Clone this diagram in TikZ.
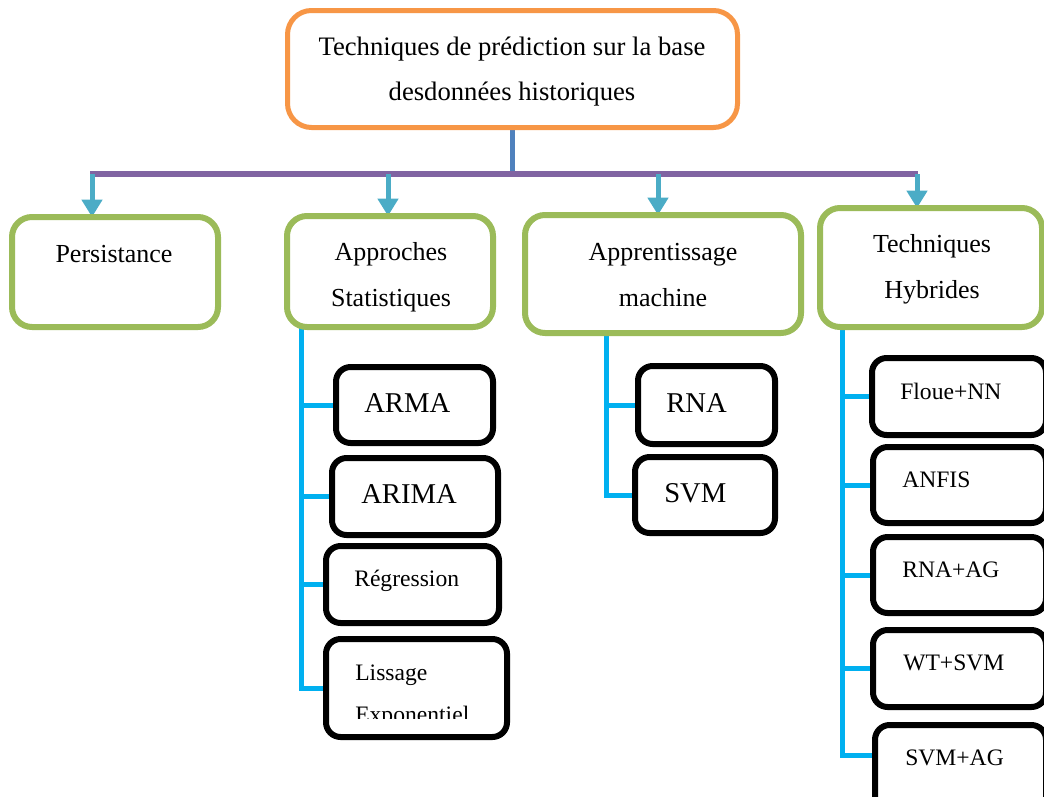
\documentclass[tikz,border=0pt]{standalone}
\usepackage{fontspec}
\setmainfont{Liberation Serif}
\usetikzlibrary{arrows.meta,fit}
\definecolor{orangeb}{HTML}{F79646}
\definecolor{greenb}{HTML}{9BBB59}
\definecolor{purpleb}{HTML}{8064A2}
\definecolor{stemb}{HTML}{4F81BD}
\definecolor{dropb}{HTML}{4BACC6}
\definecolor{cyanb}{HTML}{00B0F0}
\begin{document}
\begin{tikzpicture}[x=0.75pt,y=-0.75pt,
  topbox/.style={draw=orangeb,fill=white,line width=3.75pt,rounded corners=18pt,inner sep=0pt},
  greenbox/.style={draw=greenb,fill=white,line width=4.5pt,rounded corners=15pt,inner sep=0pt},
  blackbox/.style={draw=black,fill=white,line width=4.5pt,rounded corners=11pt,inner sep=0pt},
  bus/.style={draw=purpleb,line width=4.5pt},
  stem/.style={draw=stemb,line width=4pt},
  drop/.style={draw=dropb,line width=3.75pt,-{Triangle[width=15pt,length=13pt]}},
  branch/.style={draw=cyanb,line width=3.75pt},
  ctxt/.style={anchor=base,inner sep=0pt,align=center},
  ltxt/.style={anchor=base west,inner sep=0pt,align=left},
  bigf/.style={font=\fontsize{19.5}{34.5}\selectfont},
  midf/.style={font=\fontsize{21.5}{26}\selectfont},
  smallf/.style={font=\fontsize{17.7}{31.5}\selectfont}]
\useasboundingbox (0,0) rectangle (1044,796);
\clip (0,0) rectangle (1044,796);

% bus and branch anchor points
\coordinate (busL) at (90,174);
\coordinate (busR) at (918,174);
\coordinate (d1) at (92,174);
\coordinate (d2) at (388,174);
\coordinate (d3) at (658,174);
\coordinate (d4) at (917,174);
\coordinate (va) at (301,0);
\coordinate (vm) at (606,0);
\coordinate (vh) at (842,0);

% boxes
\node[topbox,fit={(290,13) (735,125)}] (top) {};
\node[greenbox,fit={(15,220) (215,324)}] (pers) {};
\node[greenbox,fit={(290,219) (490,324)}] (apst) {};
\node[greenbox,fit={(528,218) (798,330)}] (app) {};
\node[greenbox,fit={(823,211) (1039,324)}] (hyb) {};

\node[blackbox,fit={(339,370) (490,440)}] (arma) {};
\node[blackbox,fit={(335,461) (495,532)}] (arima) {};
\node[blackbox,fit={(329,549) (496,620)}] (regr) {};
\node[blackbox,fit={(329,642) (504,734)}] (liss) {};

\node[blackbox,fit={(641,369) (772,441)}] (rna) {};
\node[blackbox,fit={(638,460) (772,530)}] (svm) {};

\node[blackbox,fit={(875,361) (1043,432)}] (fnn) {};
\node[blackbox,fit={(876,450) (1043,520)}] (anfis) {};
\node[blackbox,fit={(876,540) (1043,610)}] (rnaag) {};
\node[blackbox,fit={(876,633) (1043,704)}] (wtsvm) {};
\node[blackbox,fit={(878,728) (1043,820)}] (svmag) {};

% connectors
\draw[stem] (top.south) -- (top.south |- busL);
\draw[bus] (busL) -- (busR);
\draw[drop] (d1) -- (d1 |- pers.north);
\draw[drop] (d2) -- (d2 |- apst.north);
\draw[drop] (d3) -- (d3 |- app.north);
\draw[drop] (d4) -- (d4 |- hyb.north);

\draw[branch] (apst.south -| va) |- (liss.west);
\draw[branch] (arma.west -| va) -- (arma.west);
\draw[branch] (arima.west -| va) -- (arima.west);
\draw[branch] (regr.west -| va) -- (regr.west);

\draw[branch] (app.south -| vm) |- (svm.west);
\draw[branch] (rna.west -| vm) -- (rna.west);

\draw[branch] (hyb.south -| vh) |- ([yshift=-22.5pt]svmag.north west);
\draw[branch] (fnn.west -| vh) -- (fnn.west);
\draw[branch] (anfis.west -| vh) -- (anfis.west);
\draw[branch] (rnaag.west -| vh) -- (rnaag.west);
\draw[branch] (wtsvm.west -| vh) -- (wtsvm.west);

% redraw box outlines over the connector ends
\foreach \n/\s in {pers/greenbox,apst/greenbox,app/greenbox,hyb/greenbox,
  arma/blackbox,arima/blackbox,regr/blackbox,liss/blackbox,rna/blackbox,svm/blackbox,
  fnn/blackbox,anfis/blackbox,rnaag/blackbox,wtsvm/blackbox,svmag/blackbox,top/topbox}
  \draw[\s] (\n.north west) rectangle (\n.south east);

% labels (multi-line labels are placed by the baseline of their last line)
\node[ctxt,font=\fontsize{20}{33.75}\selectfont] (ttop) at (512,100) {Techniques de prédiction sur la base\\desdonnées historiques};
\node[ctxt,bigf] (tpers) at (114,262) {Persistance};
\node[ctxt,bigf] (tapst) at (391,306) {Approches\\Statistiques};
\node[ctxt,bigf] (tapp) at (663,306) {Apprentissage\\machine};
\node[ctxt,bigf] (thyb) at (932,298) {Techniques\\Hybrides};

\node[ltxt,midf] (tarma) at (364,412) {ARMA};
\node[ltxt,midf] (tarima) at (361,503) {ARIMA};
\node[ltxt,smallf] (tregr) at (354,586) {Régression};
\begin{scope}
  \clip (329,642) rectangle (504,718);
  \node[ltxt,smallf] (tliss) at (355,722) {Lissage\\Exponentiel};
\end{scope}

\node[ltxt,midf] (trna) at (666,412) {RNA};
\node[ltxt,midf] (tsvm) at (664,502) {SVM};

\node[ltxt,smallf] (tfnn) at (900,399) {Floue+NN};
\node[ltxt,smallf] (tanfis) at (902,487) {ANFIS};
\node[ltxt,smallf] (trnaag) at (902,577) {RNA+AG};
\node[ltxt,smallf] (twtsvm) at (903,670) {WT+SVM};
\node[ltxt,smallf] (tsvmag) at (905,765) {SVM+AG};
\end{tikzpicture}
\end{document}
